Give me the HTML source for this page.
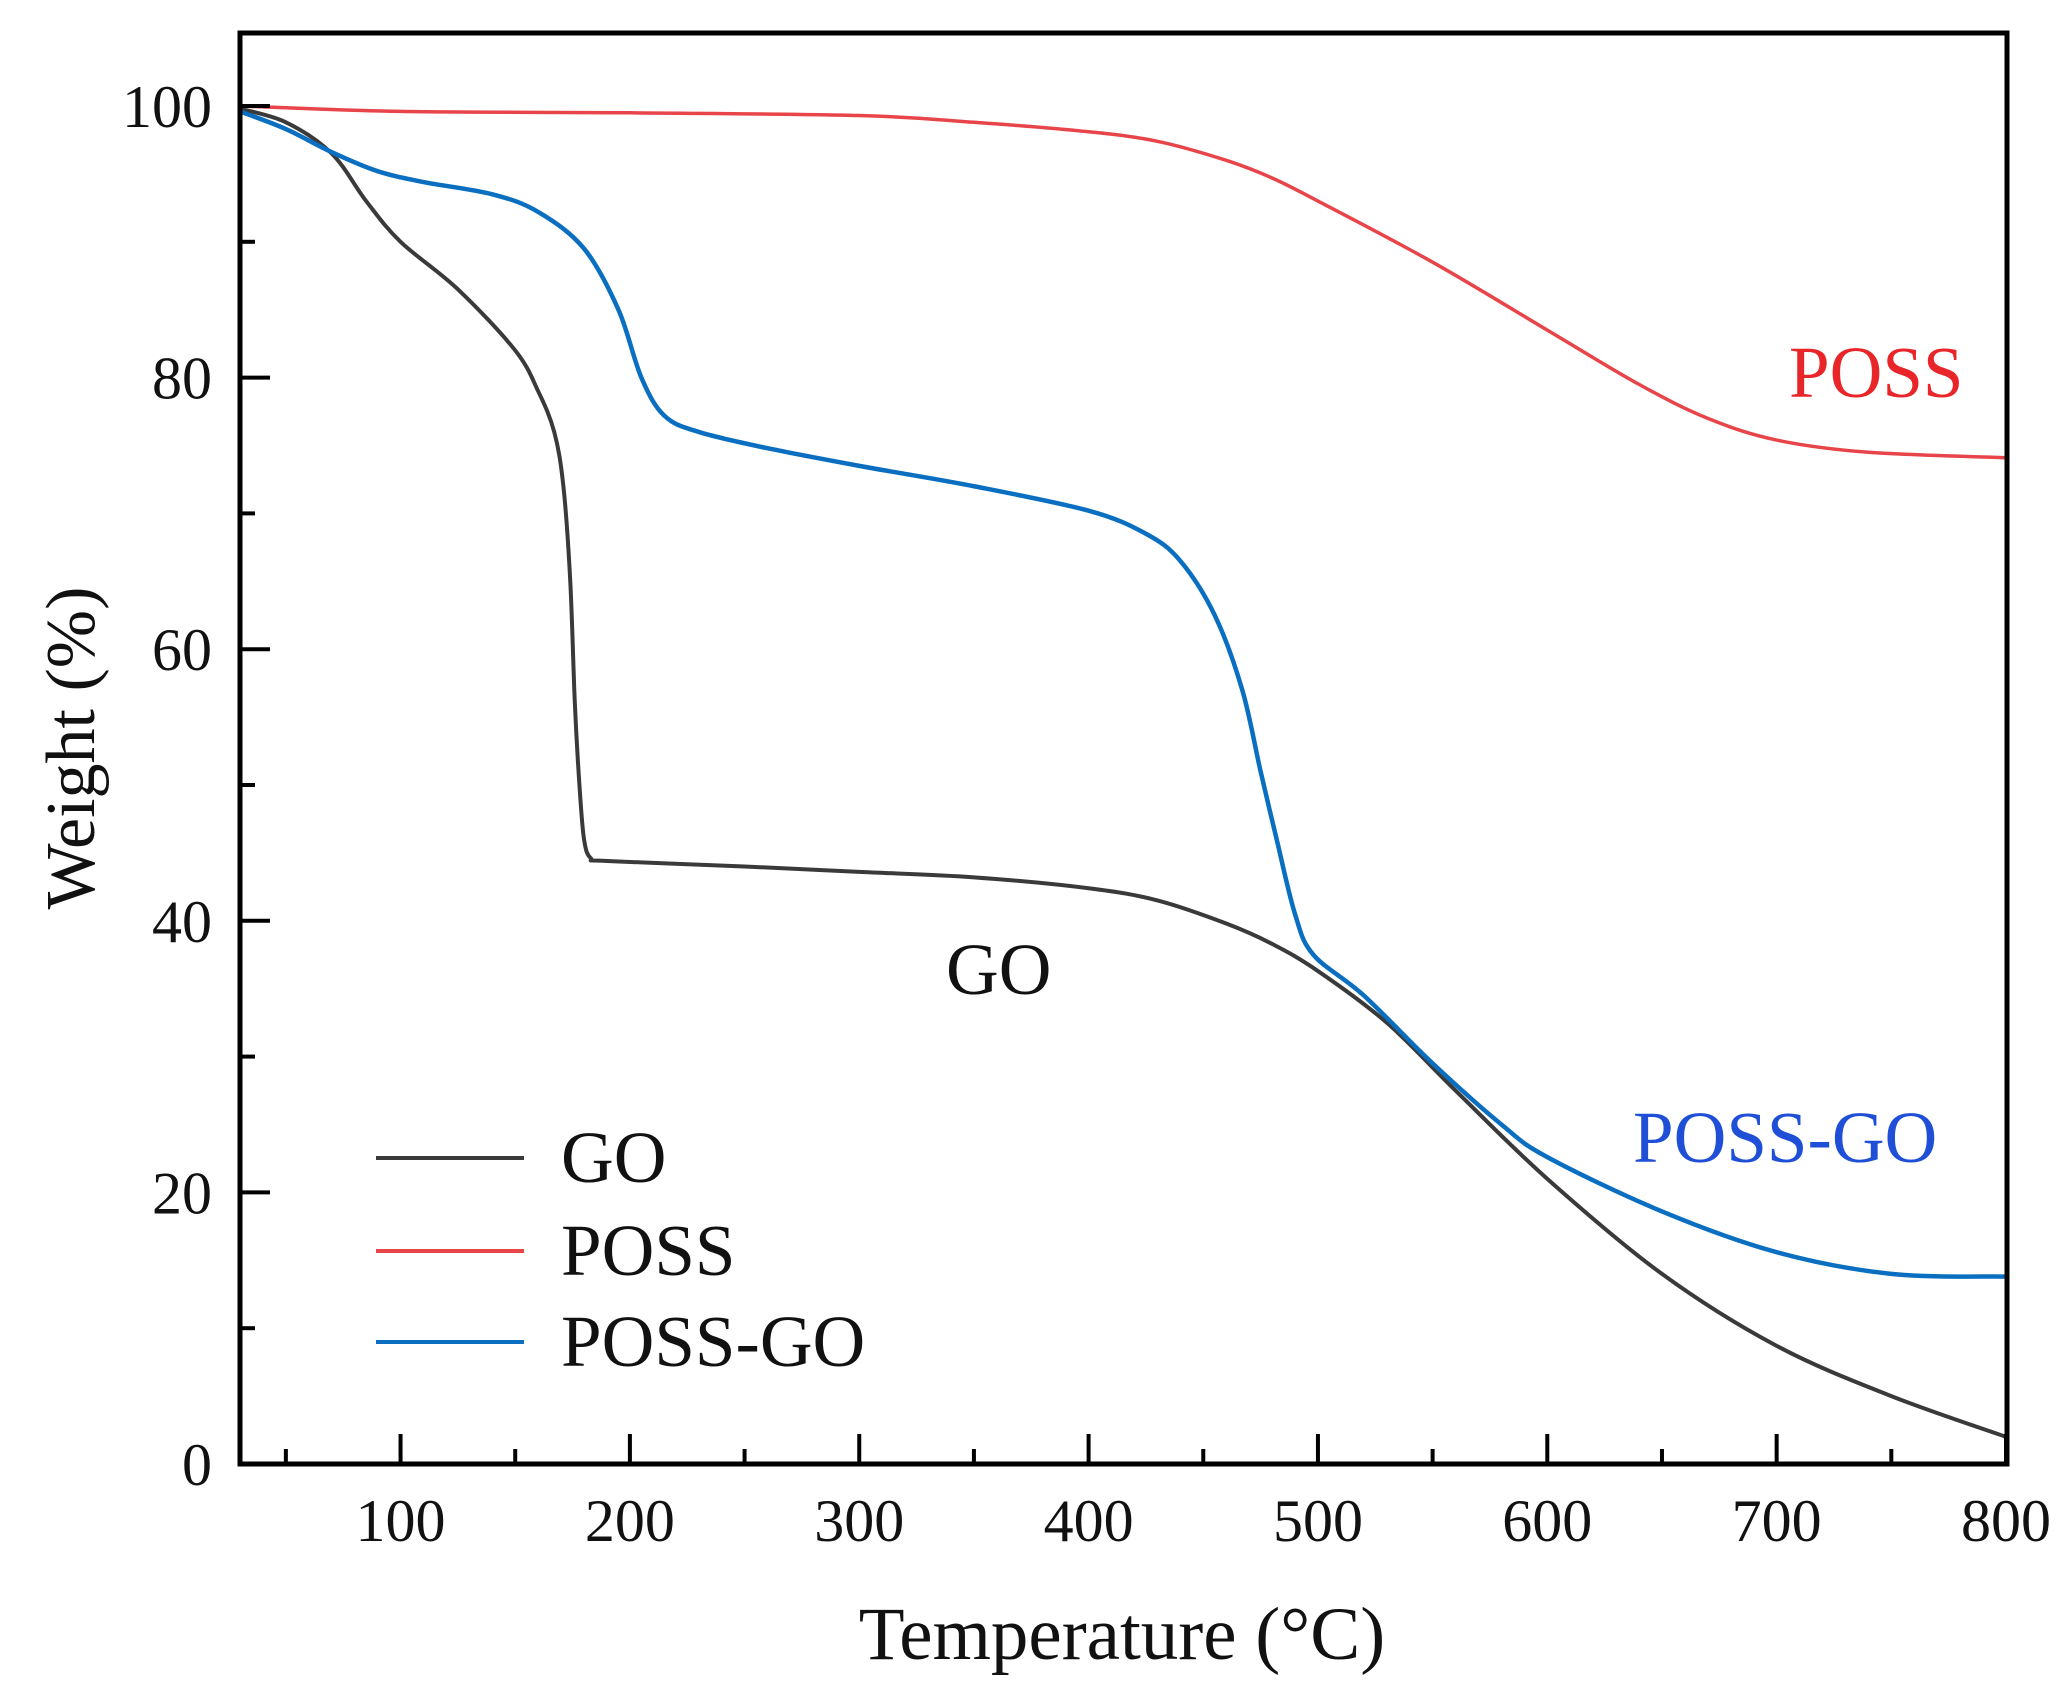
<!DOCTYPE html>
<html><head><meta charset="utf-8"><style>
html,body{margin:0;padding:0;background:#fff;}
svg text{font-family:"Liberation Serif",serif;}
</style></head><body>
<svg id="s" width="2070" height="1699" viewBox="0 0 2070 1699" xmlns="http://www.w3.org/2000/svg">
<rect width="2070" height="1699" fill="#fff"/>
<g id="curves" fill="none" stroke-linejoin="round" stroke-linecap="round"></g>
<rect x="240" y="33" width="1767" height="1431" fill="none" stroke="#000" stroke-width="5"/>
<g id="ticks" stroke="#000" stroke-width="4"></g>
<g id="labels" font-size="60" fill="#111"></g>
<text x="1122" y="1659" font-size="75" text-anchor="middle" fill="#111">Temperature (°C)</text>
<text transform="translate(94,748) rotate(-90)" font-size="70" text-anchor="middle" fill="#111">Weight (%)</text>
<text x="1789" y="397" font-size="73" fill="#e8262a">POSS</text>
<text x="946" y="994" font-size="73" fill="#111">GO</text>
<text x="1633" y="1162" font-size="73" fill="#1f4fd6">POSS-GO</text>
<line x1="376" y1="1158" x2="524" y2="1158" stroke="#3a3a3a" stroke-width="4"/>
<line x1="376" y1="1251" x2="524" y2="1251" stroke="#e8454a" stroke-width="4"/>
<line x1="376" y1="1342" x2="524" y2="1342" stroke="#0a6fc0" stroke-width="4"/>
<text x="561" y="1182" font-size="73" fill="#111">GO</text>
<text x="561" y="1275" font-size="73" fill="#111">POSS</text>
<text x="561" y="1366" font-size="73" fill="#111">POSS-GO</text>
</svg>
<script>
var NS="http://www.w3.org/2000/svg";
function px(t){return 240+(t-30)*2.2935;}
function py(w){return 1464-w*13.58;}
function mk(tag,attrs,parent){var e=document.createElementNS(NS,tag);for(var k in attrs)e.setAttribute(k,attrs[k]);parent.appendChild(e);return e;}
var tk=document.getElementById('ticks'),lb=document.getElementById('labels');
for(var t=50;t<=800;t+=50){var maj=t%100==0;mk('line',{x1:px(t),x2:px(t),y1:1464,y2:1464-(maj?30:15)},tk);
 if(maj){var e=mk('text',{x:px(t),y:1541,'text-anchor':'middle'},lb);e.textContent=t;}}
for(var w=10;w<=100;w+=10){var maj=w%20==0;mk('line',{x1:240,x2:240+(maj?30:15),y1:py(w),y2:py(w)},tk);}
for(var w=0;w<=100;w+=20){var e=mk('text',{x:212,y:py(w)+21,'text-anchor':'end'},lb);e.textContent=w;}
function path(pts){var P=pts.map(function(p){return [px(p[0]),py(p[1])];});
 var d="M"+P[0][0]+","+P[0][1];
 for(var i=0;i<P.length-1;i++){var p0=P[i-1]||P[i],p1=P[i],p2=P[i+1],p3=P[i+2]||p2;
  var c1=[p1[0]+(p2[0]-p0[0])/6,p1[1]+(p2[1]-p0[1])/6],c2=[p2[0]-(p3[0]-p1[0])/6,p2[1]-(p3[1]-p1[1])/6];
  d+=" C"+c1+" "+c2+" "+p2;}
 return d;}
var g=document.getElementById('curves');
var GO=[[30,99.8],[50,98.8],[70,96.5],[85,93],[100,90],[125,86.5],[150,82],[160,79],[167,76],[171,72],[174,65],[176,56],[178,50],[180,46],[183,44.6],[190,44.4],[250,44],[300,43.6],[350,43.2],[400,42.4],[430,41.5],[460,39.8],[480,38.3],[500,36.3],[530,32.5],[560,27.5],[600,21],[650,14],[700,8.7],[750,5],[800,2]];
var PG=[[30,99.6],[50,98.3],[70,96.6],[90,95.2],[110,94.4],[140,93.5],[160,92.2],[180,89.5],[195,85],[205,80],[215,77.2],[230,76],[260,74.8],[300,73.5],[350,72],[400,70.2],[425,68.5],[440,66.5],[455,62.5],[467,57],[475,51],[482,46],[490,40.5],[498,37.5],[520,34.5],[550,29.5],[580,25],[600,22.6],[650,18.6],[700,15.6],[750,14],[800,13.8]];
var PO=[[30,100],[100,99.6],[200,99.5],[300,99.3],[350,98.8],[400,98.1],[430,97.4],[460,96],[480,94.7],[500,93],[550,88.5],[600,83.5],[640,79.5],[670,77],[700,75.4],[740,74.5],[800,74.1]];
mk('path',{d:path(PO),stroke:'#e8454a','stroke-width':3.5},g);
mk('path',{d:path(GO),stroke:'#3a3a3a','stroke-width':4},g);
mk('path',{d:path(PG),stroke:'#0a6fc0','stroke-width':4.5},g);
</script>
</body></html>
